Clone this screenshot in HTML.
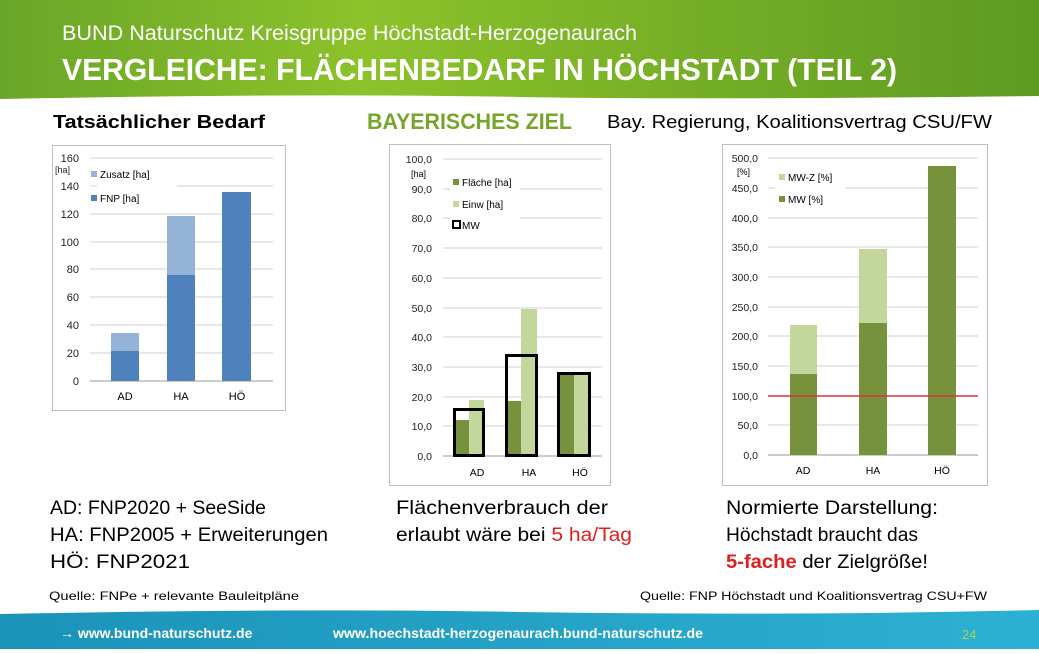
<!DOCTYPE html>
<html><head><meta charset="utf-8"><style>
body{margin:0;width:1039px;height:649px;overflow:hidden;background:#fff;font-family:"Liberation Sans",sans-serif}
</style></head><body>
<svg width="1039" height="649" xmlns="http://www.w3.org/2000/svg" font-family="Liberation Sans, sans-serif">
<defs>
<linearGradient id="hg" x1="0" x2="1"><stop offset="0" stop-color="#6aa628"/><stop offset="0.35" stop-color="#8cc22a"/><stop offset="1" stop-color="#5e9a22"/></linearGradient>
<linearGradient id="fg" x1="0" x2="1"><stop offset="0" stop-color="#1b93b8"/><stop offset="1" stop-color="#2db1d3"/></linearGradient>
</defs>
<path d="M0 0H1039V96Q700 100 520 97Q300 93 0 99Z" fill="url(#hg)"/>
<text x="62" y="40" font-size="21" fill="#fff" textLength="575" lengthAdjust="spacingAndGlyphs">BUND Naturschutz Kreisgruppe Höchstadt-Herzogenaurach</text>
<text x="62" y="80" font-size="31" font-weight="bold" fill="#fff" textLength="835" lengthAdjust="spacingAndGlyphs">VERGLEICHE: FLÄCHENBEDARF IN HÖCHSTADT (TEIL 2)</text>
<path d="M0 614Q300 608 520 612Q800 616 1039 610V649H0Z" fill="url(#fg)"/>
<text x="60" y="638" font-size="14" font-weight="bold" fill="#fff">→ www.bund-naturschutz.de</text>
<text x="333" y="638" font-size="14" font-weight="bold" fill="#fff" textLength="370" lengthAdjust="spacingAndGlyphs">www.hoechstadt-herzogenaurach.bund-naturschutz.de</text>
<text x="962" y="639" font-size="13" fill="#9fd65a">24</text>

<text x="53" y="128" font-size="18" font-weight="bold" fill="#000" textLength="212" lengthAdjust="spacingAndGlyphs">Tatsächlicher  Bedarf</text>
<text x="367" y="129" font-size="22" font-weight="bold" fill="#76a52b" textLength="205" lengthAdjust="spacingAndGlyphs">BAYERISCHES ZIEL</text>
<text x="607" y="128" font-size="18" fill="#000" textLength="385" lengthAdjust="spacingAndGlyphs">Bay. Regierung, Koalitionsvertrag CSU/FW</text>

<!-- chart 1 -->
<rect x="52.5" y="145.5" width="233" height="265" fill="#fff" stroke="#bfbfbf"/>
<g stroke="#d0d0d0"><line x1="90" x2="273" y1="158" y2="158"/><line x1="90" x2="273" y1="186" y2="186"/><line x1="90" x2="273" y1="214" y2="214"/><line x1="90" x2="273" y1="242" y2="242"/><line x1="90" x2="273" y1="269" y2="269"/><line x1="90" x2="273" y1="297" y2="297"/><line x1="90" x2="273" y1="325" y2="325"/><line x1="90" x2="273" y1="353" y2="353"/></g>
<rect x="97" y="166" width="80" height="42" fill="#fff"/>
<line x1="90" x2="273" y1="381" y2="381" stroke="#999"/>
<g font-size="11" fill="#222" text-anchor="end"><text x="79" y="162">160</text><text x="79" y="190">140</text><text x="79" y="218">120</text><text x="79" y="246">100</text><text x="79" y="273">80</text><text x="79" y="301">60</text><text x="79" y="329">40</text><text x="79" y="357">20</text><text x="79" y="385">0</text></g>
<text x="55" y="173" font-size="9" fill="#222">[ha]</text>
<rect x="91" y="171" width="6" height="6" fill="#95b3d7"/><text x="100" y="178" font-size="10">Zusatz [ha]</text>
<rect x="91" y="195" width="6" height="6" fill="#4f81bd"/><text x="100" y="202" font-size="10">FNP [ha]</text>
<rect x="111" y="333" width="28" height="18" fill="#95b3d7"/><rect x="111" y="351" width="28" height="30" fill="#4f81bd"/>
<rect x="167" y="216" width="28" height="59" fill="#95b3d7"/><rect x="167" y="275" width="28" height="106" fill="#4f81bd"/>
<rect x="222" y="192" width="29" height="189" fill="#4f81bd"/>
<g font-size="11" text-anchor="middle"><text x="125" y="400">AD</text><text x="181" y="400">HA</text><text x="237" y="400">HÖ</text></g>

<!-- chart 2 -->
<rect x="389.5" y="144.5" width="221" height="341" fill="#fff" stroke="#bfbfbf"/>
<g stroke="#d0d0d0"><line x1="443" x2="602" y1="159" y2="159"/><line x1="443" x2="602" y1="189" y2="189"/><line x1="443" x2="602" y1="218" y2="218"/><line x1="443" x2="602" y1="248" y2="248"/><line x1="443" x2="602" y1="278" y2="278"/><line x1="443" x2="602" y1="308" y2="308"/><line x1="443" x2="602" y1="337" y2="337"/><line x1="443" x2="602" y1="367" y2="367"/><line x1="443" x2="602" y1="397" y2="397"/><line x1="443" x2="602" y1="426" y2="426"/></g>
<rect x="450" y="172" width="70" height="74" fill="#fff"/>
<line x1="443" x2="602" y1="456" y2="456" stroke="#999"/>
<g font-size="10.5" fill="#222" text-anchor="end"><text x="432" y="163">100,0</text><text x="432" y="193">90,0</text><text x="432" y="222">80,0</text><text x="432" y="252">70,0</text><text x="432" y="282">60,0</text><text x="432" y="312">50,0</text><text x="432" y="341">40,0</text><text x="432" y="371">30,0</text><text x="432" y="401">20,0</text><text x="432" y="430">10,0</text><text x="432" y="460">0,0</text></g>
<text x="411" y="177" font-size="9">[ha]</text>
<rect x="453" y="179" width="6" height="6" fill="#76923c"/><text x="462" y="186" font-size="10">Fläche [ha]</text>
<rect x="453" y="201" width="6" height="6" fill="#c3d69b"/><text x="462" y="208" font-size="10">Einw [ha]</text>
<rect x="453" y="221" width="7" height="7" fill="none" stroke="#000" stroke-width="2"/><text x="462" y="229" font-size="10">MW</text>
<rect x="453" y="420" width="16" height="36" fill="#76923c"/><rect x="469" y="400" width="15" height="56" fill="#c3d69b"/>
<rect x="506" y="401" width="15" height="55" fill="#76923c"/><rect x="521" y="309" width="16" height="147" fill="#c3d69b"/>
<rect x="558" y="373" width="16" height="83" fill="#76923c"/><rect x="574" y="373" width="16" height="83" fill="#c3d69b"/>
<g fill="none" stroke="#000" stroke-width="3"><rect x="454.5" y="409.5" width="29" height="46"/><rect x="506.5" y="355.5" width="30" height="100"/><rect x="558.5" y="373.5" width="31" height="82"/></g>
<g font-size="10.5" text-anchor="middle"><text x="477" y="476">AD</text><text x="529" y="476">HA</text><text x="580" y="476">HÖ</text></g>

<!-- chart 3 -->
<rect x="722.5" y="144.5" width="265" height="341" fill="#fff" stroke="#bfbfbf"/>
<g stroke="#d0d0d0"><line x1="768" x2="978" y1="158" y2="158"/><line x1="768" x2="978" y1="188" y2="188"/><line x1="768" x2="978" y1="218" y2="218"/><line x1="768" x2="978" y1="247" y2="247"/><line x1="768" x2="978" y1="277" y2="277"/><line x1="768" x2="978" y1="307" y2="307"/><line x1="768" x2="978" y1="336" y2="336"/><line x1="768" x2="978" y1="366" y2="366"/><line x1="768" x2="978" y1="425" y2="425"/></g>
<rect x="775" y="166" width="70" height="42" fill="#fff"/>
<line x1="768" x2="978" y1="455" y2="455" stroke="#999"/>
<g font-size="10.5" fill="#222" text-anchor="end"><text x="758" y="162">500,0</text><text x="758" y="192">450,0</text><text x="758" y="222">400,0</text><text x="758" y="251">350,0</text><text x="758" y="281">300,0</text><text x="758" y="311">250,0</text><text x="758" y="340">200,0</text><text x="758" y="370">150,0</text><text x="758" y="400">100,0</text><text x="758" y="429">50,0</text><text x="758" y="459">0,0</text></g>
<text x="737" y="175" font-size="9">[%]</text>
<rect x="779" y="174" width="6" height="6" fill="#c3d69b"/><text x="788" y="181" font-size="10">MW-Z [%]</text>
<rect x="779" y="196" width="6" height="6" fill="#76923c"/><text x="788" y="203" font-size="10">MW [%]</text>
<rect x="790" y="325" width="27" height="49" fill="#c3d69b"/><rect x="790" y="374" width="27" height="81" fill="#76923c"/>
<rect x="859" y="249" width="28" height="74" fill="#c3d69b"/><rect x="859" y="323" width="28" height="132" fill="#76923c"/>
<rect x="928" y="166" width="28" height="289" fill="#76923c"/>
<line x1="768" x2="978" y1="396" y2="396" stroke="#e0303a" stroke-width="1.5"/>
<g font-size="10.5" text-anchor="middle"><text x="803" y="474">AD</text><text x="873" y="474">HA</text><text x="942" y="474">HÖ</text></g>

<!-- texts -->
<g font-size="19" fill="#000">
<text x="50" y="514" textLength="216" lengthAdjust="spacingAndGlyphs">AD: FNP2020 + SeeSide</text>
<text x="50" y="541" textLength="278" lengthAdjust="spacingAndGlyphs">HA: FNP2005 + Erweiterungen</text>
<text x="50" y="568" textLength="140" lengthAdjust="spacingAndGlyphs">HÖ: FNP2021</text>
<text x="396" y="514" textLength="212" lengthAdjust="spacingAndGlyphs">Flächenverbrauch der</text>
<text x="396" y="541" textLength="236" lengthAdjust="spacingAndGlyphs">erlaubt wäre bei <tspan fill="#e02020">5 ha/Tag</tspan></text>
<text x="726" y="514" textLength="212" lengthAdjust="spacingAndGlyphs">Normierte Darstellung:</text>
<text x="726" y="541" textLength="192" lengthAdjust="spacingAndGlyphs">Höchstadt braucht das</text>
<text x="726" y="568" textLength="202" lengthAdjust="spacingAndGlyphs"><tspan fill="#e02020" font-weight="bold">5-fache</tspan> der Zielgröße!</text>
</g>
<text x="49" y="600" font-size="12" textLength="250" lengthAdjust="spacingAndGlyphs">Quelle: FNPe  + relevante Bauleitpläne</text>
<text x="640" y="600" font-size="12" textLength="347" lengthAdjust="spacingAndGlyphs">Quelle: FNP Höchstadt und Koalitionsvertrag CSU+FW</text>
</svg>
</body></html>
